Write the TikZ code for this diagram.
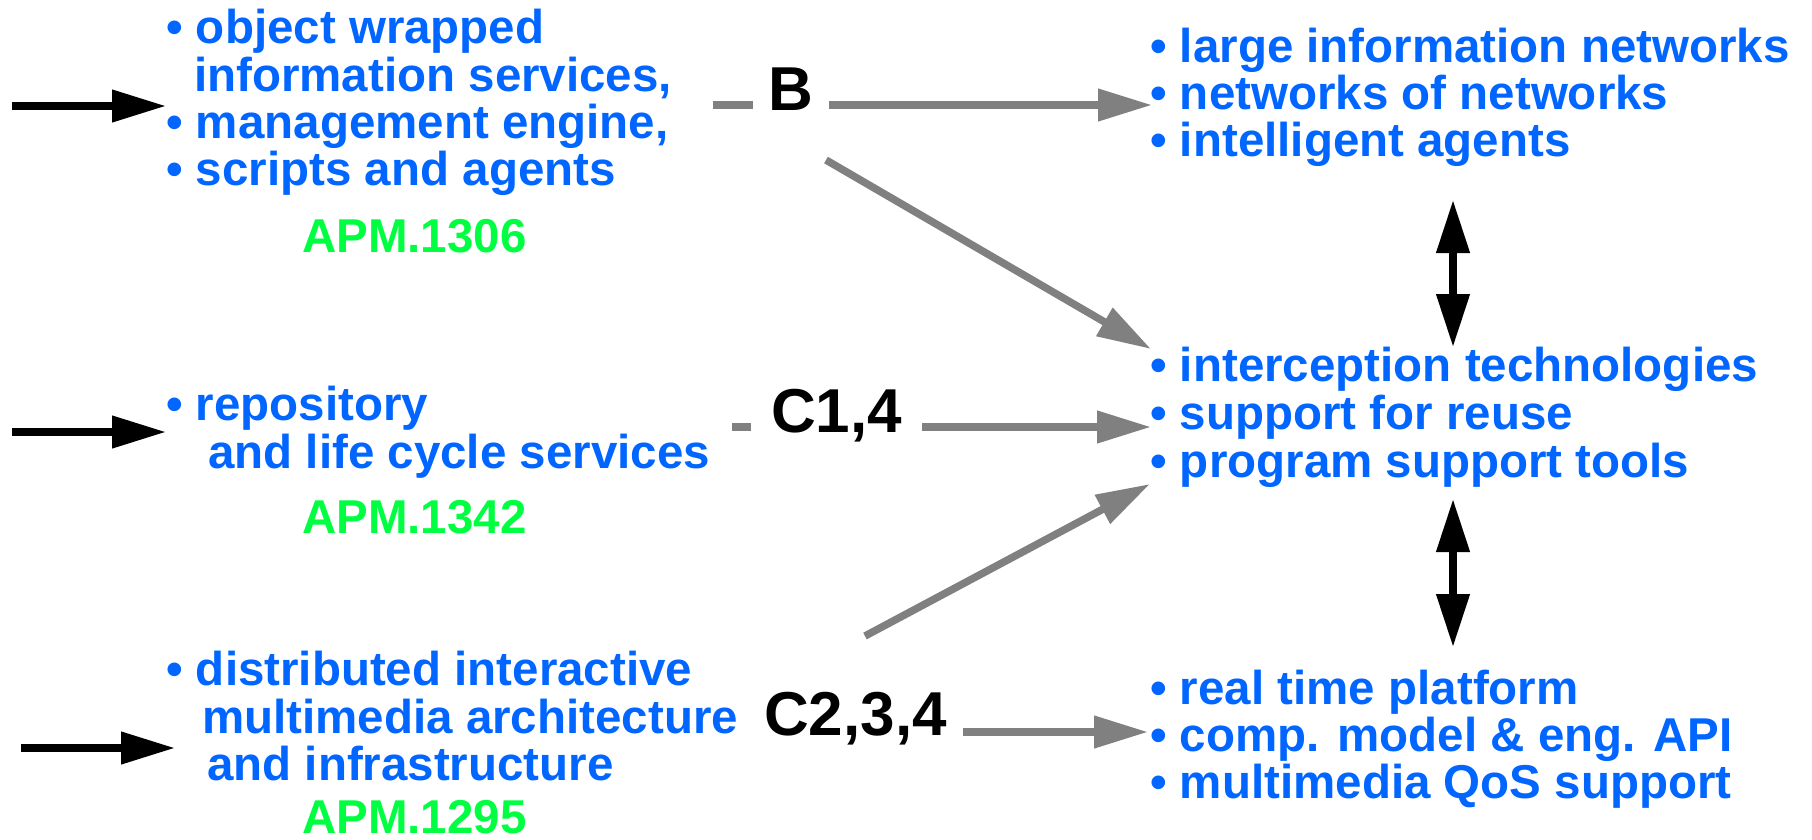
\documentclass[tikz,border=0pt]{standalone}
\usepackage{fontspec}
\setmainfont{Liberation Sans}
\usetikzlibrary{arrows.meta}
\definecolor{txtblue}{HTML}{0066FF}
\definecolor{apmgreen}{HTML}{00FF40}
\definecolor{arrgray}{HTML}{808080}
\begin{document}
\begin{tikzpicture}[x=1pt,y=-1pt,
  item/.style={anchor=base west, inner sep=0pt, text=txtblue, font=\bfseries\fontsize{47.5}{47.5}\selectfont},
  apm/.style={anchor=base west, inner sep=0pt, text=apmgreen, font=\bfseries\fontsize{47.5}{47.5}\selectfont},
  lab/.style={anchor=base west, inner ysep=0pt, text=black, font=\bfseries\fontsize{62}{62}\selectfont},
  garrow/.style={draw=arrgray, line width=7.5pt, -{Triangle[length=54pt,width=31pt]}},
  gline/.style={draw=arrgray, line width=7.5pt},
  barrow/.style={draw=black, line width=7.5pt, -{Triangle[length=54pt,width=31pt]}},
  dbarrow/.style={draw=black, line width=7.5pt, {Triangle[length=53pt,width=32pt]}-{Triangle[length=53pt,width=32pt]}}]
\useasboundingbox (0,0) rectangle (1812,839);

% left block 1
\node[item] (L1a) at (166,43) {• object wrapped};
\node[item] (L1b) at (194,91) {information services,};
\node[item] (L1c) at (166,138) {• management engine,};
\node[item] (L1d) at (166,185) {• scripts and agents};
\node[apm] (A1) at (302,252) {APM.1306};

% left block 2
\node[item] (L2a) at (166,420) {• repository};
\node[item] (L2b) at (208,468) {and life cycle services};
\node[apm] (A2) at (302,533) {APM.1342};

% left block 3
\node[item] (L3a) at (166,685) {• distributed interactive};
\node[item] (L3b) at (202,733) {multimedia architecture};
\node[item] (L3c) at (207,780) {and infrastructure};
\node[apm] (A3) at (302,833) {APM.1295};

% right block 1
\node[item] (R1a) at (1150,62) {• large information networks};
\node[item] (R1b) at (1150,109) {• networks of networks};
\node[item] (R1c) at (1150,156) {• intelligent agents};

% right block 2
\node[item] (R2a) at (1150,381) {• interception technologies};
\node[item] (R2b) at (1150,429) {• support for reuse};
\node[item] (R2c) at (1150,477) {• program support tools};

% right block 3
\node[item] (R3a) at (1150,704) {• real time platform};
\node[item] (R3b) at (1150,751) {• comp. model \& eng. API};
\node[item] (R3c) at (1150,798) {• multimedia QoS support};

% labels
\node[lab, inner xsep=15.5pt] (B) at (753,110) {B};
\node[lab, inner xsep=20pt] (C14) at (751,432) {C1,4};
\node[lab, inner xsep=16pt] (C234) at (748,735) {C2,3,4};

% incoming black arrows
\coordinate (in1) at (12,106);
\coordinate (in2) at (12,432);
\coordinate (in3) at (21,748);
\draw[barrow] (in1) -- (in1 -| L1c.west);
\draw[barrow] (in2) -- (in2 -| L2a.west);
\draw[barrow] (in3) -- (175,748);

% gray connectors
\coordinate (yB) at (0,105);
\coordinate (yC) at (0,427);
\coordinate (yD) at (0,732);
\coordinate (dB) at (713,105);
\coordinate (dC) at (732,427);
\draw[gline] (dB) -- (B.west |- yB);
\draw[garrow] (B.east |- yB) -- ([xshift=2pt]R1b.west |- yB);
\draw[gline] (dC) -- (C14.west |- yC);
\draw[garrow] (C14.east |- yC) -- ([xshift=1pt]R2b.west |- yC);
\draw[garrow] (C234.east |- yD) -- ([xshift=-2pt]R3b.west |- yD);

\coordinate (s1) at (826,160);
\coordinate (e1) at (1151,349);
\coordinate (s2) at (865,636);
\coordinate (e2) at (1150,484);
\draw[garrow] (s1) -- (e1);
\draw[garrow] (s2) -- (e2);

% vertical double arrows
\coordinate (v1a) at (1453,200);
\coordinate (v1b) at (1453,347);
\coordinate (v2a) at (1453,499);
\coordinate (v2b) at (1453,647);
\draw[dbarrow] (v1a) -- (v1b);
\draw[dbarrow] (v2a) -- (v2b);
\end{tikzpicture}
\end{document}
